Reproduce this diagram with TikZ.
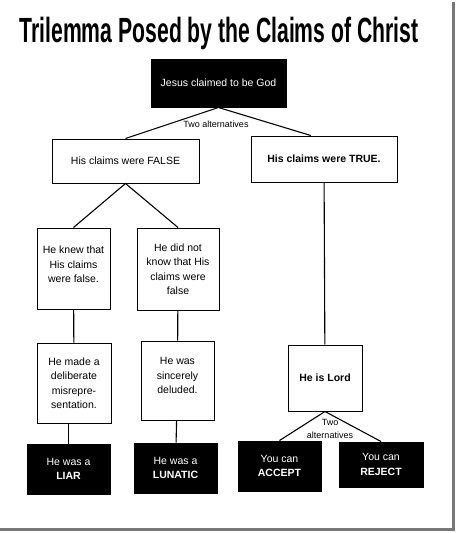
\documentclass[tikz,border=0pt]{standalone}
\usepackage{fontspec}
\setmainfont{Liberation Sans}
\usetikzlibrary{calc}
\definecolor{shadowgray}{RGB}{120, 120, 120}

\begin{document}
\begin{tikzpicture}[
    x=1pt, y=-1pt,
    box/.style={rectangle, draw=black, line width=1pt, fill=white, align=center, inner sep=0pt, font=\fontsize{10.5}{14.5}\selectfont},
    darkbox/.style={box, fill=black, text=white},
    link/.style={line width=1.1pt, black},
    note/.style={font=\fontsize{9}{13}\selectfont, align=center, inner sep=1pt}
]
\useasboundingbox (0,0) rectangle (457,533);

% Title
\node[anchor=base, font=\fontsize{35}{40}\selectfont\bfseries] (title) at (219,42) {\scalebox{0.605}[1]{Trilemma Posed by the Claims of Christ}};

% Top claim
\node[darkbox, minimum width=135pt, minimum height=48pt] (god) at (218.5,83) {Jesus claimed to be God};
\node[note] (twoa) at (216,124) {Two alternatives};

% Two branches
\node[box, minimum width=147pt, minimum height=44pt] (false) at (125.5,161) {His claims were FALSE};
\node[box, minimum width=146pt, minimum height=46pt, font=\fontsize{10.5}{14.5}\selectfont\bfseries] (true) at (324,159) {His claims were TRUE.};

% False side
\node[box, minimum width=73pt, minimum height=81pt] (knew) at (73.5,268.5) {He knew that\\His claims\\were false.\\[-6pt]\mbox{}};
\node[box, minimum width=82pt, minimum height=82pt] (notknew) at (178,269) {He did not\\know that His\\claims were\\false};
\node[box, minimum width=74pt, minimum height=80pt] (lied) at (74,383) {He made a\\deliberate\\misrepre-\\sentation.};
\node[box, minimum width=73pt, minimum height=79pt] (deluded) at (177.5,380.5) {He was\\sincerely\\deluded.\\[-5pt]\mbox{}};
\node[darkbox, minimum width=83pt, minimum height=50pt] (liar) at (68.5,469) {He was a\\\textbf{LIAR}};
\node[darkbox, minimum width=83pt, minimum height=50pt] (lunatic) at (175.5,468) {He was a\\\textbf{LUNATIC}};

% True side
\node[box, minimum width=74pt, minimum height=66pt, font=\fontsize{10.5}{14.5}\selectfont\bfseries] (lord) at (325,378) {He is Lord};
\node[note] (twob) at (330,428.5) {Two\\alternatives};
\node[darkbox, minimum width=83pt, minimum height=50pt] (accept) at (279.5,466) {You can\\\textbf{ACCEPT}};
\node[darkbox, minimum width=84pt, minimum height=45pt] (reject) at (381,464.5) {You can\\\textbf{REJECT}};

% Connectors
\draw[link] (false.north) -- (god.south) -- ($(true.north west)!0.41!(true.north east)$);
\draw[link] (knew.north) -- (false.south) -- (notknew.north);
\draw[link] (knew) -- (lied);
\draw[link] (lied.south -| liar) -- (liar.north);
\draw[link] (notknew) -- (deluded);
\draw[link] (deluded) -- (lunatic);
\draw[link] (true) -- (lord);
\draw[link] (accept.north) -- (lord.south) -- (reject.north);

% Frame shadow
\draw[shadowgray, line width=3pt] (453.5,2) -- (453.5,529.5) -- (0,529.5);
\end{tikzpicture}
\end{document}
